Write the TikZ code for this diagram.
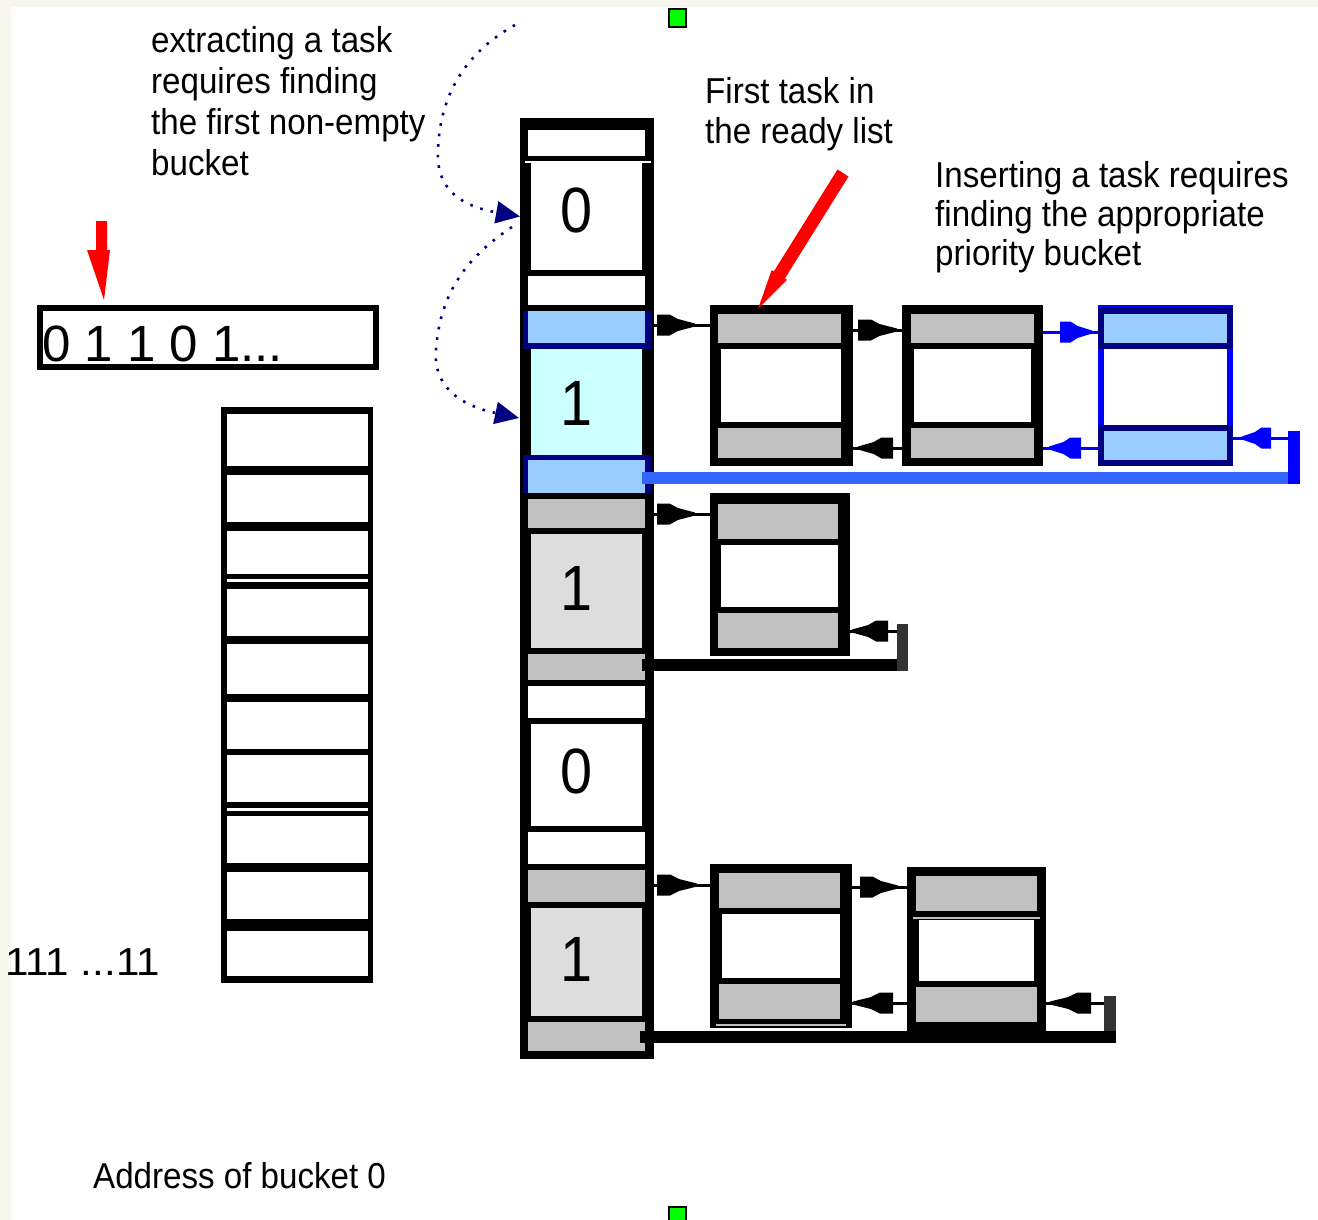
\documentclass[tikz,border=0pt]{standalone}
\usepackage{fontspec}
\setmainfont{Liberation Sans}
\newfontfamily\labelfont[FakeStretch=0.92]{Liberation Sans}
\newfontfamily\digitfont[FakeStretch=0.9]{Liberation Sans}
\newfontfamily\addrfont[FakeStretch=1.08]{Liberation Sans}
\usetikzlibrary{arrows.meta,decorations.markings}

\definecolor{paper}{HTML}{F7F7F0}
\definecolor{slotgray}{HTML}{C0C0C0}
\definecolor{cellgray}{HTML}{DDDDDD}
\definecolor{cellcyan}{HTML}{CCFFFF}
\definecolor{paleblue}{HTML}{99CCFF}
\definecolor{navy}{HTML}{000080}
\definecolor{pureblue}{HTML}{0000FF}
\definecolor{linkblue}{HTML}{3366FF}
\definecolor{bargray}{HTML}{333333}
\definecolor{signal}{HTML}{00FF00}

\begin{document}
\begin{tikzpicture}[x=1pt,y=-1pt,
  blk/.style={draw=none, fill=#1, inner sep=0pt, outer sep=0pt, anchor=north west},
  blk/.default=black,
  ptr/.style={line width=3pt, color=#1, postaction=decorate},
  ptr/.default=black,
  tippos/.style 2 args={decoration={markings, mark=at position #1 with {\fill (0,-10.5) -- (#2*0.33,-10.5) -- (#2*0.55,-6) -- (#2,-1.5) -- (#2,1.5) -- (#2*0.55,6) -- (#2*0.33,10.5) -- (0,10.5) -- cycle;}}},
  retline/.style={line width=12pt, color=#1},
  hint/.style={navy, line width=2.6pt, dash pattern=on 2.6pt off 8pt, -{Triangle[length=24pt,width=22pt]}},
  note/.style={anchor=base west, inner sep=0pt, font=\labelfont\fontsize{36}{41}\selectfont},
  bigdigit/.style={anchor=base, inner sep=0pt, font=\digitfont\fontsize{64}{64}\selectfont},
  marker/.style={draw=black, line width=2pt, fill=signal, inner sep=0pt, minimum width=17pt, minimum height=18pt, anchor=north west},
]
\useasboundingbox (0,0) rectangle (1318,1220);
% page
\fill[paper] (0,0) rectangle (1318,1220);
\fill[white] (11,7) rectangle (1318,1220);

% alignment markers
\node[marker] (mtop) at (668,8) {};
\node[marker] (mbot) at (668,1206) {};

% ---------- bitmap and address table ----------
\node[draw=black, line width=6pt, fill=white, inner sep=0pt, outer sep=0pt, minimum width=336pt, minimum height=59pt, anchor=north west] (bits) at (40,308) {};
\node[anchor=base west, inner sep=0pt, font=\fontsize{51}{51}\selectfont] (bittext) at (42,361) {0 1 1 0 1...};
\fill[red] (96,221) -- (107,221) -- (107,250) -- (110,250) -- (104,300) -- (87,250) -- (96,250) -- cycle;

\node[blk, minimum width=152pt, minimum height=576pt] (table) at (221,407) {};
\foreach \a/\b in {414/465.6, 474.8/522, 530.5/574.4, 579/582, 588.5/635.5, 644/694,
                   702/749, 755/802, 807.6/810.7, 816/863, 871.8/919, 930.5/976}
  \fill[white] (227,\a) rectangle (368,\b);

\node[anchor=base west, inner sep=0pt, font=\addrfont\fontsize{39}{39}\selectfont] (lastaddr) at (5,975) {111 ...11};
\node[anchor=base west, inner sep=0pt, font=\labelfont\fontsize{36}{36}\selectfont] (firstaddr) at (93,1188) {Address of bucket 0};

% ---------- priority buckets ----------
\node[blk, minimum width=134pt, minimum height=941pt] (col) at (520,118) {};
\fill[white] (528,130) rectangle (645,156);
\fill[white] (525,161.5) rectangle (651,163);
\node[blk=white, minimum width=111pt, minimum height=107pt] (bk0) at (531,163) {};
\fill[white] (528,276) rectangle (645,305);
\fill[navy] (523,311) rectangle (651,349);
\fill[paleblue] (528,311) rectangle (645,343);
\node[blk=cellcyan, minimum width=111pt, minimum height=106pt] (bk1) at (531,349) {};
\fill[navy] (523,455) rectangle (651,493);
\fill[paleblue] (528,460) rectangle (645,493);
\fill[slotgray] (528,499) rectangle (645,528);
\node[blk=cellgray, minimum width=111pt, minimum height=114pt] (bk2) at (531,534) {};
\fill[slotgray] (528,654) rectangle (645,680);
\fill[white] (528,686) rectangle (645,718);
\node[blk=white, minimum width=111pt, minimum height=102pt] (bk3) at (531,724) {};
\fill[white] (528,832) rectangle (645,864);
\fill[slotgray] (528,870) rectangle (645,902);
\node[blk=cellgray, minimum width=111pt, minimum height=108pt] (bk4) at (531,908) {};
\fill[slotgray] (528,1022) rectangle (645,1051);

\node[bigdigit] (d0) at (577,233) {0};
\node[bigdigit] (d1) at (577,425) {1};
\node[bigdigit] (d2) at (577,610) {1};
\node[bigdigit] (d3) at (577,793) {0};
\node[bigdigit] (d4) at (577,981) {1};

% ---------- task control blocks ----------
% bucket 1, first list
\node[blk, minimum width=143pt, minimum height=161pt] (a1) at (710,305) {};
\fill[slotgray] (718,314) rectangle (841,343);
\fill[white] (721,349) rectangle (841,422);
\fill[slotgray] (718,428) rectangle (841,458);
\node[blk, minimum width=141pt, minimum height=161pt] (b1) at (902,305) {};
\fill[slotgray] (911,314) rectangle (1034,343);
\fill[white] (914,349) rectangle (1031,422);
\fill[slotgray] (911,428) rectangle (1034,458);
\node[blk=pureblue, minimum width=135pt, minimum height=161pt] (c1) at (1098,305) {};
\fill[navy] (1098,308) rectangle (1233,349);
\fill[paleblue] (1104,314) rectangle (1227,343);
\fill[white] (1104,349) rectangle (1227,425);
\fill[navy] (1098,425) rectangle (1233,466);
\fill[paleblue] (1104,431) rectangle (1227,460);
% bucket 2
\node[blk, minimum width=140pt, minimum height=163pt] (a2) at (710,493) {};
\fill[slotgray] (718,504) rectangle (838,539);
\fill[white] (721,545) rectangle (838,607);
\fill[slotgray] (718,613) rectangle (838,648);
% bucket 4
\node[blk, minimum width=142pt, minimum height=164pt] (a3) at (710,864) {};
\fill[slotgray] (719,873) rectangle (840,908);
\fill[white] (722,914) rectangle (840,978);
\fill[slotgray] (719,984) rectangle (840,1019);
\fill[slotgray] (716,1024) rectangle (846,1026);
\node[blk, minimum width=139pt, minimum height=164pt] (b3) at (907,867) {};
\fill[slotgray] (916,876) rectangle (1037,911);
\fill[slotgray] (913,917) rectangle (1040,919);
\fill[white] (919,920) rectangle (1034,981);
\fill[slotgray] (916,987) rectangle (1037,1022);

% ---------- list tail links ----------
\coordinate (t1) at (642,478);
\coordinate (t2) at (642,665);
\coordinate (t3) at (640,1036.5);
\draw[retline=linkblue] (t1) -- (1288,478);
\node[blk=pureblue, minimum width=12pt, minimum height=53pt] (bar1) at (1288,431) {};
\draw[retline=black] (t2) -- (897,665);
\node[blk=bargray, minimum width=11pt, minimum height=47pt] (bar2) at (897,624) {};
\draw[retline=black] (t3) -- (1116,1036.5);
\node[blk=bargray, minimum width=12pt, minimum height=35pt] (bar3) at (1104,996) {};

% ---------- pointers ----------
\coordinate (y1n) at (0,325);
\coordinate (y1m) at (0,330);
\coordinate (y1r) at (0,332);
\coordinate (y1p) at (0,448);
\coordinate (y1t) at (0,438);
\coordinate (y2n) at (0,514);
\coordinate (y2p) at (0,631);
\coordinate (y3n) at (0,885);
\coordinate (y3m) at (0,887);
\coordinate (y3p) at (0,1003);

\draw[ptr, tippos={3pt}{38}] (col.east |- y1n) -- (a1.west |- y1n);
\draw[ptr, tippos={5pt}{39}] (a1.east |- y1m) -- (b1.west |- y1m);
\draw[ptr, tippos={9pt}{35}] (b1.west |- y1p) -- (a1.east |- y1p);
\draw[ptr=pureblue, tippos={17pt}{32}] (b1.east |- y1r) -- (c1.west |- y1r);
\draw[ptr=pureblue, tippos={17pt}{32}] (c1.west |- y1p) -- (b1.east |- y1p);
\draw[ptr=pureblue, tippos={17pt}{29}] (bar1.west |- y1t) -- (c1.east |- y1t);

\draw[ptr, tippos={3pt}{38}] (col.east |- y2n) -- (a2.west |- y2n);
\draw[ptr, tippos={9pt}{36}] (bar2.west |- y2p) -- (a2.east |- y2p);

\draw[ptr, tippos={3pt}{40}] (col.east |- y3n) -- (a3.west |- y3n);
\draw[ptr, tippos={8pt}{38}] (a3.east |- y3m) -- (b3.west |- y3m);
\draw[ptr, tippos={14pt}{40}] (b3.west |- y3p) -- (a3.east |- y3p);
\draw[ptr, tippos={13pt}{41}] (bar3.west |- y3p) -- (b3.east |- y3p);

% ---------- search hints ----------
\coordinate (h1) at (515,25);
\coordinate (h2) at (512,227);
\coordinate (h2end) at (519,418);
\draw[hint] (h1) .. controls (470,50) and (440,90) .. (438,150)
                 .. controls (436,185) and (455,205) .. (col.west |- bk0);
\draw[hint] (h2) .. controls (470,255) and (440,290) .. (436,350)
                 .. controls (433,385) and (458,405) .. (h2end);

% first-task pointer
\fill[red] (837.5,169.5) -- (848.5,176.5) -- (784.8,278.5) -- (787,279.8) -- (758,309)
           -- (771.6,270.2) -- (773.8,271.5) -- cycle;

% ---------- notes ----------
\node[note] (extractnote) at (151,53) {\vtop{\hbox{extracting a task}\hbox{requires finding}\hbox{the first non-empty}\hbox{bucket}}};
\node[note, font=\labelfont\fontsize{36}{40}\selectfont] (firstnote) at (705,104) {\vtop{\hbox{First task in}\hbox{the ready list}}};
\node[note, font=\labelfont\fontsize{36}{39}\selectfont] (insertnote) at (935,188) {\vtop{\hbox{Inserting a task requires}\hbox{finding the appropriate}\hbox{priority bucket}}};
\end{tikzpicture}
\end{document}
